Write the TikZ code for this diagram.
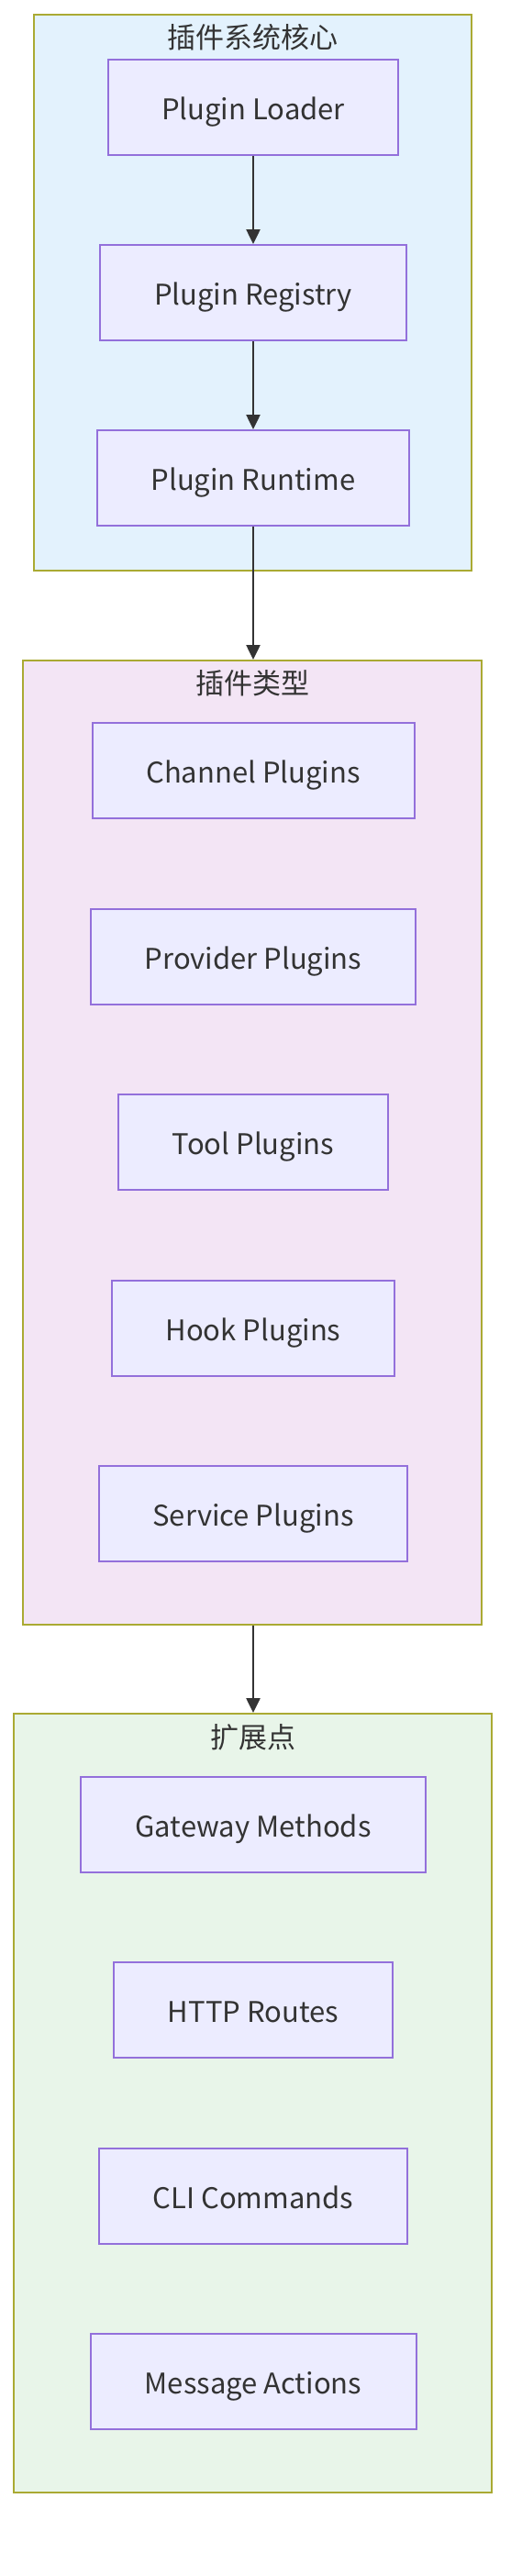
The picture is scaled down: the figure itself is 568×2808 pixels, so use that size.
\documentclass[tikz,border=0pt]{standalone}
\usepackage{fontspec}
\setmainfont{Noto Sans CJK SC}
\usetikzlibrary{arrows.meta}
\definecolor{txt}{HTML}{333333}
\definecolor{nodefill}{HTML}{ECECFF}
\definecolor{nodeline}{HTML}{9370DB}
\definecolor{clline}{HTML}{AAAA33}
\definecolor{cblue}{HTML}{E3F2FD}
\definecolor{cpurple}{HTML}{F3E5F5}
\definecolor{cgreen}{HTML}{E8F5E9}
\tikzset{
  box/.style={draw=nodeline, fill=nodefill, line width=2pt, inner sep=0pt,
    minimum height=104pt, text=txt, font=\fontsize{31}{37}\selectfont,
    text height=30pt, text depth=3pt},
  cluster/.style={draw=clline, line width=2pt, inner sep=0pt},
  ctitle/.style={text=txt, font=\fontsize{31}{37}\selectfont, inner sep=0pt},
  link/.style={draw=txt, line width=2.5pt, -{Triangle[length=16pt,width=15pt]}}
}
\begin{document}
\begin{tikzpicture}[x=1pt,y=-1pt]
\useasboundingbox (0,0) rectangle (568,2808);
% clusters
\node[cluster, fill=cblue, minimum width=477pt, minimum height=606pt] (c1) at (275.5,319) {};
\node[cluster, fill=cpurple, minimum width=500pt, minimum height=1051pt] (c2) at (275,1245.5) {};
\node[cluster, fill=cgreen, minimum width=521pt, minimum height=849pt] (c3) at (275.5,2292.5) {};
\node[ctitle] (t1) at (275.5,41) {插件系统核心};
\node[ctitle] (t2) at (275,745) {插件类型};
\node[ctitle] (t3) at (275.5,1894) {扩展点};
% core
\node[box, minimum width=316pt] (loader) at (276,116.5) {Plugin Loader};
\node[box, minimum width=334pt] (registry) at (276,319) {Plugin Registry};
\node[box, minimum width=340pt] (runtime) at (276,521) {Plugin Runtime};
% types
\node[box, minimum width=351pt] (channel) at (276,840) {Channel Plugins};
\node[box, minimum width=354pt] (provider) at (276,1043) {Provider Plugins};
\node[box, minimum width=294pt] (tool) at (276,1245) {Tool Plugins};
\node[box, minimum width=308pt] (hook) at (276,1448) {Hook Plugins};
\node[box, minimum width=336pt] (service) at (276,1650) {Service Plugins};
% extension points
\node[box, minimum width=376pt] (gateway) at (276,1989) {Gateway Methods};
\node[box, minimum width=304pt] (http) at (276,2191) {HTTP Routes};
\node[box, minimum width=336pt] (cli) at (276,2394) {CLI Commands};
\node[box, minimum width=355pt] (message) at (276,2596) {Message Actions};
% connectors
\draw[link] (loader) -- (registry);
\draw[link] (registry) -- (runtime);
\draw[link] (runtime.south) -- (runtime.south |- c2.north);
\draw[link] (c2.south -| runtime.south) -- (runtime.south |- c3.north);
\end{tikzpicture}
\end{document}
